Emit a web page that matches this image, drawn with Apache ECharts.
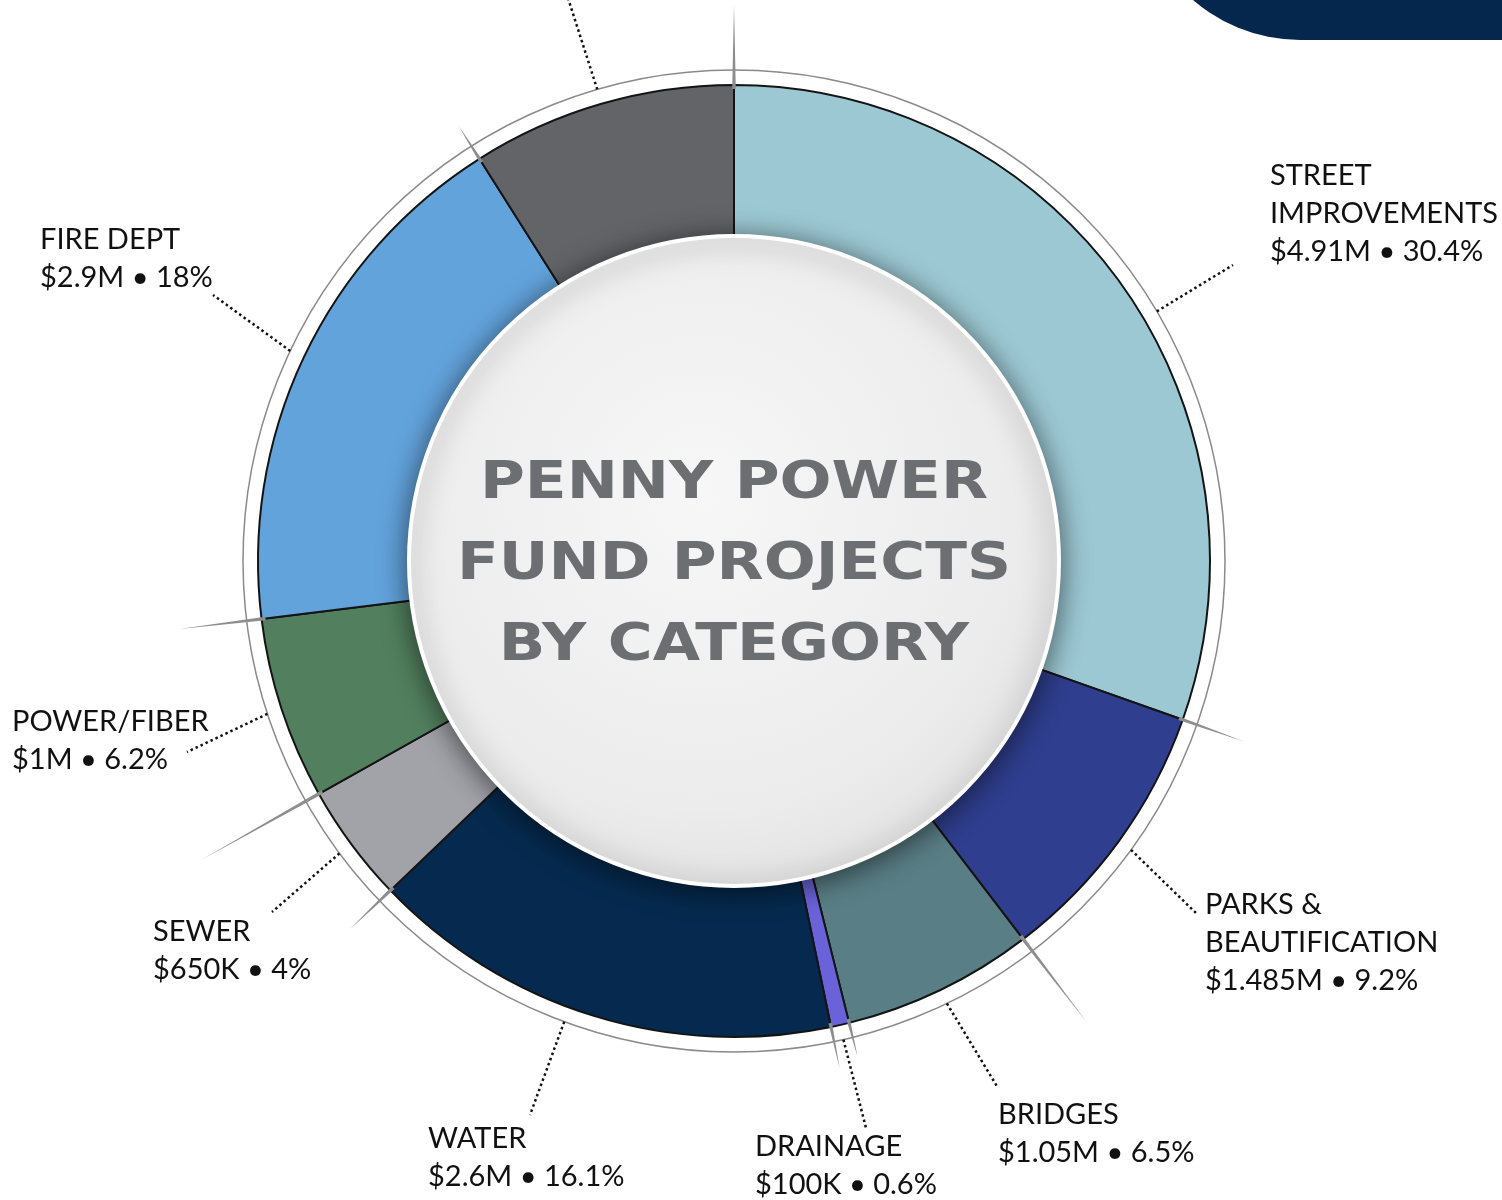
<!DOCTYPE html>
<html>
<head>
<meta charset="utf-8">
<script src="https://cdn.jsdelivr.net/npm/echarts@6/dist/echarts.min.js"></script>
<style>
  html, body { margin: 0; padding: 0; background: #fff; }
  #main { width: 1502px; height: 1200px; }
</style>
</head>
<body>
<div id="main"></div>
<script>
// data
var categories = ['STREET\nIMPROVEMENTS', 'PARKS &\nBEAUTIFICATION', 'BRIDGES', 'DRAINAGE', 'WATER', 'SEWER', 'POWER/FIBER', 'FIRE DEPT', 'OTHER'];
var amounts = [4910000, 1485000, 1050000, 100000, 2600000, 650000, 1000000, 2900000, 1450000];
var colors = ['#9cc8d3', '#2f3e8e', '#5a7e86', '#6a62d8', '#062a4f', '#a1a3a9', '#52805f', '#63a3dc', '#636468'];

// layout (pixels)
var cx = 734, cy = 561, rOuter = 476, rRing = 491;
var labelPos = [[1270, 157], [1205, 886], [998, 1096], [755, 1128], [428, 1120], [153, 913], [12, 703], [40, 221], [560, -220]];
var leaderEnds = [[1233, 265], [1198, 915], [998, 1088], [866, 1128], [530, 1115], [272, 912], [187, 752], [213, 295], [567, -5]];
var leaderShift = [4.7, 0, 0, 0, 3, 0, 0, 0, 0]; // degrees
var tickLengths = [80, 65, 105, 35, 42, 56, 134, 83, 39];

var total = amounts.reduce(function (a, b) { return a + b; }, 0);
var cum = [0];
amounts.forEach(function (v, i) { cum.push(cum[i] + v); });

function pointAt(frac, r) {
    var a = frac * Math.PI * 2;
    return [cx + r * Math.sin(a), cy - r * Math.cos(a)];
}

function money(v) {
    if (v >= 1e6) return '$' + (+(v / 1e6).toFixed(3)) + 'M';
    return '$' + (+(v / 1e3).toFixed(0)) + 'K';
}

var seriesData = categories.map(function (name, i) {
    return { name: name, value: amounts[i], itemStyle: { color: colors[i] } };
});

// grey tapered ticks at slice boundaries
var ticks = tickLengths.map(function (len, i) {
    var f = cum[i] / total;
    var a = f * Math.PI * 2;
    var nx = Math.cos(a), ny = Math.sin(a);
    var base = pointAt(f, rOuter - 4);
    var tip = pointAt(f, rOuter + len);
    return {
        type: 'polygon', z: 5, silent: true,
        shape: { points: [[base[0] - nx * 1.8, base[1] - ny * 1.8], [base[0] + nx * 1.8, base[1] + ny * 1.8], tip] },
        style: { fill: '#8d8d8d' }
    };
});

var chartDom = document.getElementById('main');
var myChart = echarts.init(chartDom);
var option = {
    backgroundColor: '#ffffff',
    animation: false,
    series: [
        {
            type: 'pie',
            center: [cx, cy],
            radius: [280, rOuter],
            startAngle: 90,
            clockwise: true,
            avoidLabelOverlap: false,
            percentPrecision: 1,
            silent: true,
            itemStyle: { borderColor: '#141414', borderWidth: 2 },
            label: {
                show: true,
                position: 'outside',
                color: '#111111',
                fontFamily: 'Lato',
                fontSize: 29,
                lineHeight: 38,
                align: 'left',
                formatter: function (p) {
                    return p.name + '\n' + money(p.value) + ' \u2022 ' + (+p.percent) + '%';
                }
            },
            labelLine: {
                show: true,
                lineStyle: { color: '#111111', width: 2.5, type: [2.5, 3] }
            },
            labelLayout: function (params) {
                var i = params.dataIndex;
                var mid = (cum[i] + amounts[i] / 2) / total + leaderShift[i] / 360;
                var start = pointAt(mid, rRing);
                var end = leaderEnds[i];
                return {
                    x: labelPos[i][0],
                    y: labelPos[i][1],
                    align: 'left',
                    verticalAlign: 'top',
                    labelLinePoints: [start, [(start[0] + end[0]) / 2, (start[1] + end[1]) / 2], end]
                };
            },
            data: seriesData
        }
    ],
    graphic: {
        elements: [
            {
                type: 'rect', z: 1, silent: true,
                shape: { x: 1137, y: -300, width: 500, height: 340, r: [0, 0, 0, 163] },
                style: { fill: '#05274d' }
            },
            {
                type: 'circle', z: 1, silent: true,
                shape: { cx: cx, cy: cy, r: rRing },
                style: { fill: 'none', stroke: '#8a8a8a', lineWidth: 1.5 }
            }
        ].concat(ticks).concat([
            {
                type: 'circle', z: 20, silent: true,
                shape: { cx: cx, cy: cy, r: 325 },
                style: {
                    fill: {
                        type: 'radial', x: 0.45, y: 0.4, r: 0.6,
                        colorStops: [{ offset: 0, color: '#f7f7f7' }, { offset: 0.8, color: '#ececec' }, { offset: 1, color: '#e4e4e4' }]
                    },
                    stroke: '#ffffff', lineWidth: 4,
                    shadowBlur: 28, shadowColor: 'rgba(0,0,0,0.55)', shadowOffsetX: 0, shadowOffsetY: 4
                }
            },
            {
                type: 'text', z: 21, silent: true,
                x: cx, y: 566, scaleX: 1.2,
                style: {
                    text: 'PENNY POWER\nFUND PROJECTS\nBY CATEGORY',
                    font: 'bold 51px "DejaVu Sans"',
                    lineHeight: 81,
                    fill: '#6d6e71',
                    align: 'center',
                    verticalAlign: 'middle'
                }
            }
        ])
    }
};
option && myChart.setOption(option);
</script>
</body>
</html>
